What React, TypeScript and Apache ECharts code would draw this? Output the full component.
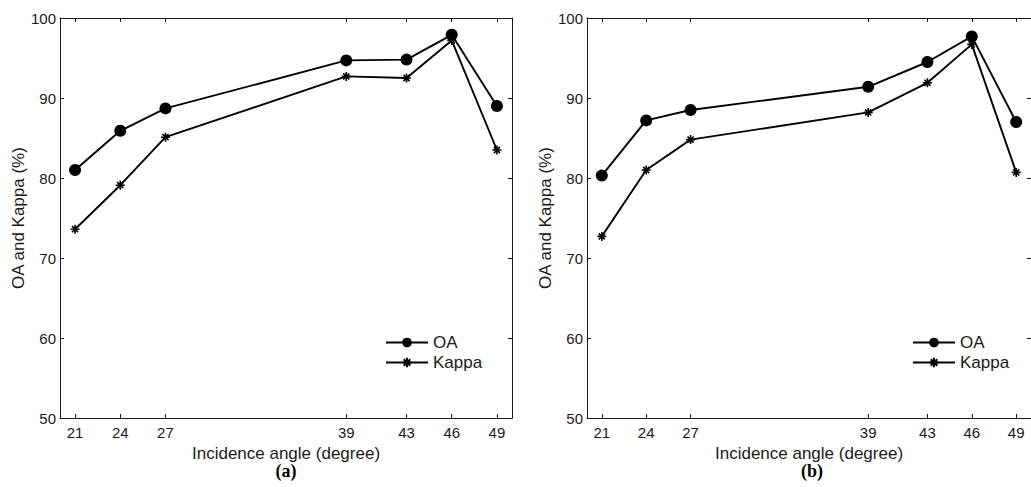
import React, { useEffect, useRef } from "react";
import * as echarts from "echarts";

const angles = [21, 24, 27, 39, 43, 46, 49];
const oaA = [81.0, 85.9, 88.7, 94.7, 94.8, 97.9, 89.0];
const kappaA = [73.6, 79.1, 85.1, 92.7, 92.5, 97.2, 83.5];
const oaB = [80.3, 87.2, 88.5, 91.4, 94.5, 97.7, 87.0];
const kappaB = [72.7, 81.0, 84.8, 88.2, 91.9, 96.7, 80.7];
const yTicks = [50, 60, 70, 80, 90, 100];
const panelLabels = ["(a)", "(b)"];

const FONT = "Liberation Sans, Arial, sans-serif";
const INK = "#1a1a1a";
const ASTERISK = "path://M5,0L5,10M0,5L10,5M1.6,1.6L8.4,8.4M1.6,8.4L8.4,1.6";

const pairs = (ys: number[]) => angles.map((x, i) => [x, ys[i]]);

export default function App() {
  const ref = useRef<HTMLDivElement>(null);
  useEffect(() => {
    if (!ref.current) return;
    const chart = echarts.init(ref.current, undefined, { renderer: "svg" });
    const grids = [
      { left: 60, top: 18, width: 452, height: 400 },
      { left: 587, top: 18, width: 451, height: 400 },
    ];
    const xBottom = (gi: number) => ({
      type: "value",
      gridIndex: gi,
      position: "bottom",
      min: 20,
      max: 50,
      name: "Incidence angle (degree)",
      nameLocation: "middle",
      nameGap: 25,
      nameTextStyle: { fontFamily: FONT, fontSize: 17, color: INK },
      axisLine: { show: true, onZero: false, lineStyle: { color: INK, width: 1 } },
      axisTick: { show: true, inside: true, length: 4, customValues: angles, lineStyle: { color: INK } },
      axisLabel: { show: true, customValues: angles, fontFamily: FONT, fontSize: 15, color: INK, margin: 7 },
      splitLine: { show: false },
    });
    const xTop = (gi: number) => ({
      type: "value",
      gridIndex: gi,
      position: "top",
      min: 20,
      max: 50,
      axisLine: { show: true, onZero: false, lineStyle: { color: INK, width: 1 } },
      axisTick: { show: true, inside: true, length: 4, customValues: angles, lineStyle: { color: INK } },
      axisLabel: { show: false },
      splitLine: { show: false },
    });
    const yLeft = (gi: number) => ({
      type: "value",
      gridIndex: gi,
      position: "left",
      min: 50,
      max: 100,
      interval: 10,
      name: "OA and Kappa (%)",
      nameLocation: "middle",
      nameGap: 30,
      nameTextStyle: { fontFamily: FONT, fontSize: 17, color: INK },
      axisLine: { show: true, onZero: false, lineStyle: { color: INK, width: 1 } },
      axisTick: { show: true, inside: true, length: 4, customValues: yTicks, lineStyle: { color: INK } },
      axisLabel: { show: true, customValues: yTicks, fontFamily: FONT, fontSize: 15, color: INK, margin: 4 },
      splitLine: { show: false },
    });
    const yRight = (gi: number) => ({
      type: "value",
      gridIndex: gi,
      position: "right",
      min: 50,
      max: 100,
      interval: 10,
      axisLine: { show: true, onZero: false, lineStyle: { color: INK, width: 1 } },
      axisTick: { show: true, inside: true, length: 4, lineStyle: { color: INK } },
      axisLabel: { show: false },
      splitLine: { show: false },
    });
    const oaSeries = (gi: number, ys: number[]) => ({
      type: "line",
      name: "OA",
      xAxisIndex: gi,
      yAxisIndex: gi,
      data: pairs(ys),
      symbol: "circle",
      symbolSize: 12,
      lineStyle: { color: "#000", width: 1.9 },
      itemStyle: { color: "#000" },
    });
    const kSeries = (gi: number, ys: number[]) => ({
      type: "line",
      name: "Kappa",
      xAxisIndex: gi,
      yAxisIndex: gi,
      data: pairs(ys),
      symbol: ASTERISK,
      symbolSize: 9,
      lineStyle: { color: "#000", width: 1.9 },
      itemStyle: { color: "#000", borderColor: "#000", borderWidth: 1.6 },
    });
    const legend = (left: number) => ({
      orient: "vertical",
      left,
      top: 329,
      itemWidth: 42,
      itemHeight: 12,
      itemGap: 3,
      data: ["OA", "Kappa"],
      textStyle: { fontFamily: FONT, fontSize: 17, lineHeight: 12, color: INK },
      selectedMode: false,
    });
    const titleStyle = { fontFamily: "Liberation Serif, Times New Roman, serif", fontWeight: "bold", fontSize: 18, fill: "#000", textAlign: "center", textVerticalAlign: "middle" };
    chart.setOption({
      animation: false,
      backgroundColor: "#fff",
      grid: grids,
      xAxis: [xBottom(0), xBottom(1), xTop(0), xTop(1)],
      yAxis: [yLeft(0), yLeft(1), yRight(0), yRight(1)],
      legend: [legend(380), legend(907)],
      series: [oaSeries(0, oaA), kSeries(0, kappaA), oaSeries(1, oaB), kSeries(1, kappaB)],
      graphic: [
        { type: "text", x: 286, y: 471, style: { ...titleStyle, text: panelLabels[0] } },
        { type: "text", x: 812, y: 471, style: { ...titleStyle, text: panelLabels[1] } },
      ],
    });
    return () => chart.dispose();
  }, []);
  return <div ref={ref} style={{ position: "absolute", left: 0, top: 0, width: 1031, height: 487 }} />;
}
